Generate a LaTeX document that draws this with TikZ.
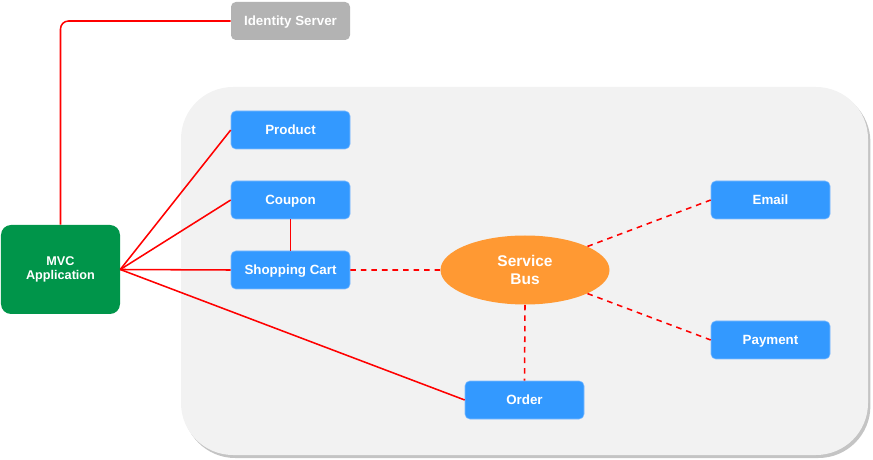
\documentclass[tikz,border=0pt]{standalone}
\usepackage{fontspec}
\setmainfont{Liberation Sans}
\usetikzlibrary{positioning,shapes.geometric}
\definecolor{svcblue}{HTML}{3399FF}
\definecolor{svcedge}{HTML}{7DBBFF}
\definecolor{mvcgreen}{HTML}{00954A}
\definecolor{idgray}{HTML}{B3B3B3}
\definecolor{busorange}{HTML}{FF9933}
\definecolor{panel}{HTML}{F2F2F2}
\definecolor{panelshade}{HTML}{C4C4C4}
\begin{document}
\begin{tikzpicture}[node distance=1.75cm,
                    font=\fontsize{9.5}{11}\selectfont\bfseries,
                    svc node/.style={rectangle,rounded corners=0.12cm,fill=svcblue,draw=svcedge,
                                     line width=0.4pt,text=white,text height=1.6ex,text depth=0.4ex,
                                     minimum width=2.975cm,minimum height=0.95cm},
                    link/.style={red,line width=1.1pt},
                    buslink/.style={red,line width=1.1pt,dash pattern=on 4pt off 3.5pt}]

  \useasboundingbox (0,0) rectangle (21.825,-11.5);

  % panel behind the services
  \fill[panelshade,rounded corners=1.3cm] (4.58,-2.25) rectangle (21.76,-11.45);
  \fill[panel,rounded corners=1.3cm] (4.525,-2.175) rectangle (21.7,-11.375);

  \node[rectangle,rounded corners=0.12cm,fill=idgray,text=white,text height=1.6ex,text depth=0.4ex,
        minimum width=2.975cm,minimum height=0.95cm] (ids) at (7.2625,-0.525) {Identity Server};
  \node[rectangle,rounded corners=0.25cm,fill=mvcgreen,text=white,align=center,
        font=\fontsize{9}{10.5}\selectfont\bfseries,
        minimum width=2.975cm,minimum height=2.225cm] (mvc) at (1.5125,-6.7375) {MVC\\Application};

  \node[svc node] (product) at (7.2625,-3.25) {Product};
  \node[svc node] (coupon) [below of=product] {Coupon};
  \node[svc node] (cart) [below of=coupon] {Shopping Cart};

  \node[ellipse,fill=busorange,text=white,align=center,minimum width=4.225cm,
        font=\fontsize{11}{13}\selectfont\bfseries,
        minimum height=1.725cm,inner sep=0pt] (bus) at (13.125,-6.75) {Service\\Bus};

  \node[svc node] (email) at (19.2625,-5.0) {Email};
  \node[svc node] (payment) [below of=email, node distance=3.5cm] {Payment};
  \node[svc node] (order) at (13.1125,-10.0) {Order};

  \draw[link,rounded corners=0.2cm] (mvc.north) |- (ids.west);
  \draw[link] (mvc.east) -- (product.west);
  \draw[link] (mvc.east) -- (coupon.west);
  \draw[link] (mvc.east) -- (cart.west);
  \draw[link] (mvc.east) -- (order.west);
  \draw[link] (coupon) -- (cart);

  \draw[buslink] (cart) -- (bus);
  \draw[buslink] (bus) -- (email.west);
  \draw[buslink] (bus) -- (payment.west);
  \draw[buslink] (bus.south) -- (order.north);
\end{tikzpicture}
\end{document}
